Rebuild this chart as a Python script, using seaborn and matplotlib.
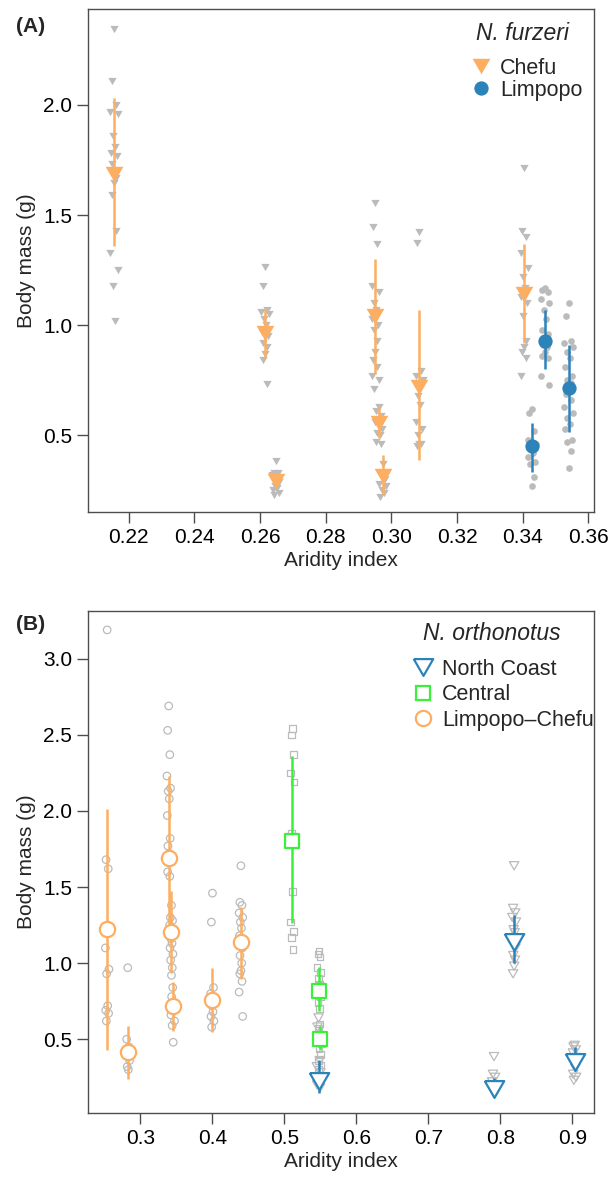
import numpy as np
import pandas as pd
import matplotlib
matplotlib.use("Agg")
import matplotlib.pyplot as plt
from matplotlib.lines import Line2D
import seaborn as sns

# ---------------- data: panel A (N. furzeri) ----------------
chefu_x = [0.2155, 0.2615, 0.2648, 0.2951, 0.2961, 0.2974, 0.3085, 0.3405]
chefu_mean = [1.685, 0.965, 0.295, 1.04, 0.555, 0.315, 0.72, 1.14]
chefu_lo = [1.36, 0.85, 0.26, 0.78, 0.49, 0.235, 0.39, 0.92]
chefu_hi = [2.03, 1.075, 0.33, 1.30, 0.63, 0.41, 1.07, 1.37]
chefu_raw = [
    [2.345, 2.11, 2.0, 1.97, 1.96, 1.86, 1.81, 1.78, 1.77, 1.73, 1.67, 1.645, 1.59, 1.43, 1.33, 1.25, 1.18, 1.02],
    [1.265, 1.177, 1.07, 1.06, 1.05, 1.03, 1.0, 0.97, 0.95, 0.92, 0.90, 0.87, 0.84, 0.733],
    [0.383, 0.33, 0.33, 0.32, 0.29, 0.27, 0.26, 0.25, 0.24, 0.23],
    [1.556, 1.447, 1.371, 1.177, 1.15, 1.10, 1.07, 1.03, 1.0, 0.98, 0.93, 0.88, 0.84, 0.81, 0.77, 0.75, 0.71],
    [0.63, 0.61, 0.59, 0.56, 0.53, 0.51, 0.50, 0.47, 0.46],
    [0.37, 0.33, 0.30, 0.28, 0.27, 0.25, 0.24, 0.22],
    [1.424, 1.374, 0.79, 0.77, 0.75, 0.68, 0.64, 0.56, 0.53, 0.50, 0.46, 0.46, 0.45],
    [1.712, 1.43, 1.40, 1.33, 1.26, 1.22, 1.17, 1.13, 1.10, 1.04, 0.93, 0.90, 0.88, 0.85, 0.77],
]
limpopo_x = [0.3428, 0.3468, 0.3540]
limpopo_mean = [0.45, 0.93, 0.713]
limpopo_lo = [0.335, 0.80, 0.516]
limpopo_hi = [0.557, 1.07, 0.909]
limpopo_raw = [
    [0.62, 0.60, 0.52, 0.48, 0.46, 0.44, 0.42, 0.40, 0.38, 0.37, 0.31, 0.27],
    [1.17, 1.16, 1.15, 1.12, 1.10, 1.07, 1.03, 0.98, 0.96, 0.91, 0.90, 0.88, 0.86, 0.85, 0.77, 0.73],
    [1.10, 1.04, 0.93, 0.92, 0.90, 0.88, 0.85, 0.81, 0.77, 0.75, 0.74, 0.72, 0.69, 0.66, 0.63,
     0.60, 0.58, 0.55, 0.53, 0.48, 0.47, 0.43, 0.35],
]

# ---------------- data: panel B (N. orthonotus) ----------------
nc_x = [0.5475, 0.791, 0.819, 0.903]
nc_mean = [0.228, 0.172, 1.14, 0.353]
nc_lo = [0.145, 0.155, 1.0, 0.32]
nc_hi = [0.364, 0.243, 1.318, 0.447]
nc_raw = [
    [0.64, 0.58, 0.36, 0.32, 0.28, 0.25, 0.22, 0.20, 0.18],
    [0.386, 0.27, 0.25, 0.22, 0.19, 0.16],
    [1.64, 1.36, 1.33, 1.30, 1.27, 1.22, 1.20, 1.15, 1.10, 1.05, 1.02, 0.98, 0.93],
    [0.46, 0.45, 0.43, 0.41, 0.38, 0.35, 0.31, 0.27, 0.25, 0.23],
]
cen_x = [0.511, 0.548, 0.549]
cen_mean = [1.805, 0.816, 0.503]
cen_lo = [1.263, 0.686, 0.43]
cen_hi = [2.36, 0.976, 0.59]
cen_raw = [
    [2.54, 2.50, 2.37, 2.25, 2.19, 1.85, 1.47, 1.27, 1.21, 1.17, 1.09],
    [1.08, 1.06, 1.04, 0.97, 0.94, 0.90, 0.86, 0.82, 0.78, 0.74, 0.70],
    [0.60, 0.57, 0.53, 0.50, 0.47, 0.44, 0.40, 0.36, 0.33, 0.30],
]
lc_x = [0.254, 0.2826, 0.3395, 0.3433, 0.345, 0.4002, 0.4397]
lc_mean = [1.224, 0.413, 1.693, 1.208, 0.721, 0.758, 1.136]
lc_lo = [0.43, 0.237, 1.15, 0.934, 0.557, 0.55, 0.895]
lc_hi = [2.01, 0.588, 2.232, 1.471, 0.879, 0.971, 1.372]
lc_raw = [
    [3.19, 1.68, 1.62, 1.10, 0.96, 0.93, 0.72, 0.69, 0.67, 0.62],
    [0.97, 0.50, 0.45, 0.41, 0.36, 0.32, 0.30],
    [2.69, 2.53, 2.37, 2.23, 2.15, 2.13, 2.08, 1.97, 1.82, 1.77, 1.72, 1.66, 1.60, 1.57],
    [1.38, 1.30, 1.28, 1.25, 1.20, 1.16, 1.13, 1.10, 1.06, 1.02, 0.97, 0.92],
    [0.84, 0.78, 0.70, 0.66, 0.62, 0.59, 0.48],
    [1.46, 1.27, 0.84, 0.80, 0.76, 0.72, 0.68, 0.65, 0.62, 0.58],
    [1.64, 1.40, 1.38, 1.33, 1.30, 1.27, 1.23, 1.18, 1.10, 1.05, 1.00, 0.95, 0.93, 0.88, 0.81, 0.65],
]

xticks_a = [0.22, 0.24, 0.26, 0.28, 0.30, 0.32, 0.34, 0.36]
yticks_a = [0.5, 1.0, 1.5, 2.0]
xticks_b = [0.3, 0.4, 0.5, 0.6, 0.7, 0.8, 0.9]
yticks_b = [0.5, 1.0, 1.5, 2.0, 2.5, 3.0]
labels_a = ["Chefu", "Limpopo"]
labels_b = ["North Coast", "Central", "Limpopo\u2013Chefu"]

# ---------------- style ----------------
ORANGE = "#FDAE61"
BLUE = "#2B83BA"
GREEN = "#3BF03B"
GRAY = "#BBBBBB"
AXC = "#4D4D4D"
TRI = [(-1, 0.866), (1, 0.866), (0, -0.866), (-1, 0.866)]  # downward triangle
W, H = 611, 1179

sns.set_style("ticks")
plt.rcParams["font.family"] = ["Liberation Sans", "DejaVu Sans"]


def jitter(n, w):
    pattern = np.array([0, -0.6, 0.6, -1.0, 1.0, -0.3, 0.3, -0.8, 0.8, -0.45, 0.45])
    return w * pattern[np.arange(n) % len(pattern)]


def raw_frame(xs, raws, w):
    rows = []
    for gx, ys in zip(xs, raws):
        off = jitter(len(ys), w)
        for o, y in zip(off, ys):
            rows.append((gx + o, y))
    return pd.DataFrame(rows, columns=["x", "y"])


fig = plt.figure(figsize=(6.11, 11.79), dpi=100)
axA = fig.add_axes([0.144, 0.5655, 0.8275, 0.4266])
axB = fig.add_axes([0.144, 0.0562, 0.8275, 0.4258])

# ---------------- panel A ----------------
dfa_c = raw_frame(chefu_x, chefu_raw, 0.0011)
dfa_l = raw_frame(limpopo_x, limpopo_raw, 0.0013)
sns.scatterplot(data=dfa_c, x="x", y="y", ax=axA, marker=TRI, s=6.0**2,
                color=GRAY, edgecolor=GRAY, linewidth=0, zorder=1, legend=False)
sns.scatterplot(data=dfa_l, x="x", y="y", ax=axA, marker="o", s=4.8**2,
                color=GRAY, edgecolor=GRAY, linewidth=0, zorder=1, legend=False)
axA.vlines(chefu_x, chefu_lo, chefu_hi, color=ORANGE, lw=1.8, zorder=2)
axA.vlines(limpopo_x, limpopo_lo, limpopo_hi, color=BLUE, lw=1.8, zorder=2)
sns.scatterplot(x=chefu_x, y=chefu_mean, ax=axA, marker=TRI, s=12.8**2,
                color=ORANGE, edgecolor=ORANGE, linewidth=0, zorder=3, legend=False)
sns.scatterplot(x=limpopo_x, y=limpopo_mean, ax=axA, marker="o", s=10.3**2,
                color=BLUE, edgecolor=BLUE, linewidth=0, zorder=3, legend=False)

axA.set_xlim(0.2076, 0.3616)
axA.set_ylim(0.151, 2.434)
axA.set_xticks(xticks_a)
axA.set_xticklabels([f"{v:.2f}" for v in xticks_a])
axA.set_yticks(yticks_a)
axA.set_yticklabels([f"{v:.1f}" for v in yticks_a])

hA = [Line2D([], [], ls="none", marker=TRI, ms=12.8, color=ORANGE, mec=ORANGE, mew=0),
      Line2D([], [], ls="none", marker="o", ms=10.3, color=BLUE, mec=BLUE, mew=0)]
fig.legend(hA, labels_a, loc="upper left", bbox_to_anchor=(471 / W, 1 - 58 / H),
           frameon=False, fontsize=15.5, handlelength=0.9, handletextpad=0.45,
           labelspacing=0.04, borderpad=0, borderaxespad=0)
fig.text(476 / W, 1 - 34 / H, "N. furzeri", fontsize=16.5, style="italic",
         ha="left", va="center")

# ---------------- panel B ----------------
dfb_lc = raw_frame(lc_x, lc_raw, 0.0025)
dfb_c = raw_frame(cen_x, cen_raw, 0.0025)
dfb_n = raw_frame(nc_x, nc_raw, 0.0025)
sns.scatterplot(data=dfb_lc, x="x", y="y", ax=axB, marker="o", s=5.4**2,
                color=GRAY, facecolor="none", edgecolor=GRAY, linewidth=0.9, zorder=1, legend=False)
sns.scatterplot(data=dfb_c, x="x", y="y", ax=axB, marker="s", s=4.8**2,
                color=GRAY, facecolor="none", edgecolor=GRAY, linewidth=0.9, zorder=1, legend=False)
sns.scatterplot(data=dfb_n, x="x", y="y", ax=axB, marker=TRI, s=6.8**2,
                color=GRAY, facecolor="none", edgecolor=GRAY, linewidth=0.9, zorder=1, legend=False)
axB.vlines(lc_x, lc_lo, lc_hi, color=ORANGE, lw=1.8, zorder=2)
axB.vlines(cen_x, cen_lo, cen_hi, color=GREEN, lw=1.8, zorder=2)
axB.vlines(nc_x, nc_lo, nc_hi, color=BLUE, lw=1.8, zorder=2)
sns.scatterplot(x=lc_x, y=lc_mean, ax=axB, marker="o", s=11**2,
                color=ORANGE, facecolor="white", edgecolor=ORANGE, linewidth=1.6, zorder=3, legend=False)
sns.scatterplot(x=cen_x, y=cen_mean, ax=axB, marker="s", s=10.5**2,
                color=GREEN, facecolor="white", edgecolor=GREEN, linewidth=1.6, zorder=3, legend=False)
sns.scatterplot(x=nc_x, y=nc_mean, ax=axB, marker=TRI, s=14**2,
                color=BLUE, facecolor="white", edgecolor=BLUE, linewidth=1.6, zorder=3, legend=False)

axB.set_xlim(0.2274, 0.9293)
axB.set_ylim(0.017, 3.316)
axB.set_xticks(xticks_b)
axB.set_xticklabels([f"{v:.1f}" for v in xticks_b])
axB.set_yticks(yticks_b)
axB.set_yticklabels([f"{v:.1f}" for v in yticks_b])

hB = [Line2D([], [], ls="none", marker=TRI, ms=14, mfc="none", mec=BLUE, mew=1.6),
      Line2D([], [], ls="none", marker="s", ms=10.5, mfc="none", mec=GREEN, mew=1.6),
      Line2D([], [], ls="none", marker="o", ms=11, mfc="none", mec=ORANGE, mew=1.6)]
fig.legend(hB, labels_b, loc="upper left", bbox_to_anchor=(413 / W, 1 - 659 / H),
           frameon=False, fontsize=15.5, handlelength=0.9, handletextpad=0.45,
           labelspacing=0.2, borderpad=0, borderaxespad=0)
fig.text(423 / W, 1 - 634 / H, "N. orthonotus", fontsize=16.5, style="italic",
         ha="left", va="center")

# ---------------- common axis styling ----------------
for ax in (axA, axB):
    for sp in ax.spines.values():
        sp.set_visible(True)
        sp.set_color(AXC)
        sp.set_linewidth(1.0)
    ax.tick_params(axis="both", which="major", direction="out", length=8, width=1.0,
                   color=AXC, labelsize=15, pad=3.5, labelcolor="black")
    ax.tick_params(top=False, right=False)
    ax.set_xlabel("Aridity index", fontsize=15, labelpad=3)
    ax.set_ylabel("Body mass (g)", fontsize=15, labelpad=5)
    ax.grid(False)

fig.text(0.0255, 1 - 27 / H, "(A)", fontsize=15, fontweight="bold", ha="left", va="center")
fig.text(0.0255, 1 - 624 / H, "(B)", fontsize=15, fontweight="bold", ha="left", va="center")

fig.savefig("out.png", dpi=100)
